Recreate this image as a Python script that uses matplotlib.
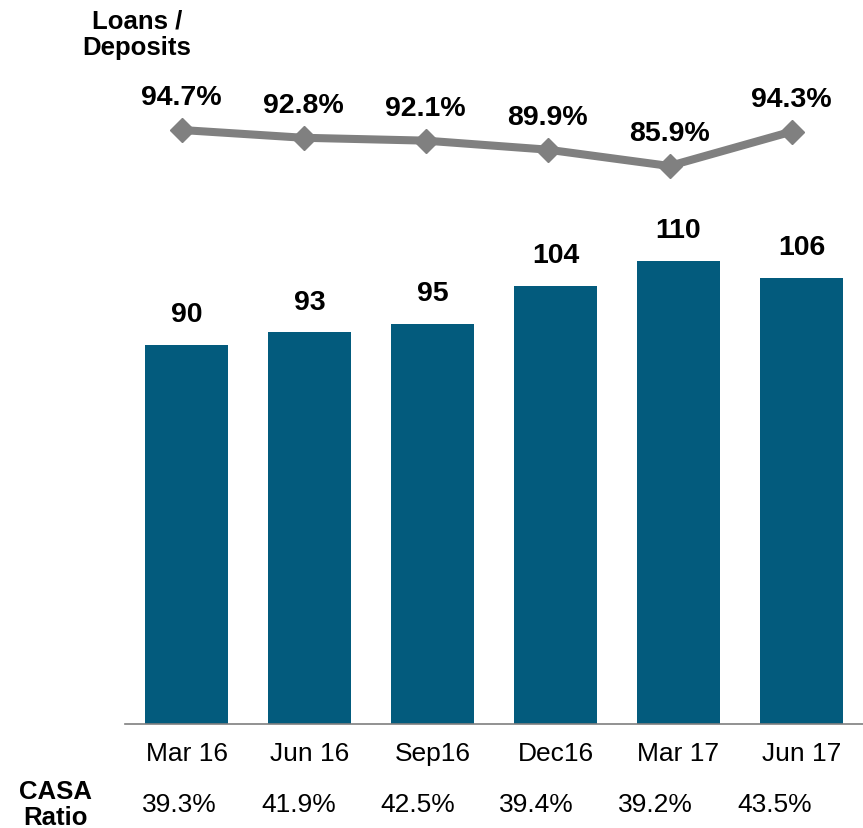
import numpy as np
import matplotlib.pyplot as plt

plt.rcParams['font.family'] = ['Liberation Sans', 'DejaVu Sans']

quarters = ["Mar 16", "Jun 16", "Sep16", "Dec16", "Mar 17", "Jun 17"]
deposits = [90, 93, 95, 104, 110, 106]
loans_deposits = [94.7, 92.8, 92.1, 89.9, 85.9, 94.3]
casa_ratio = [39.3, 41.9, 42.5, 39.4, 39.2, 43.5]

W, H = 863, 829
fig = plt.figure(figsize=(W / 100, H / 100), dpi=100)
ax = fig.add_axes([125 / W, (H - 725) / H, 738 / W, 725 / H])

x = np.arange(len(quarters))
ax.bar(x, deposits, width=0.667, color='#035b7d', zorder=2)
for xi, v in zip(x, deposits):
    ax.text(xi, v + 7.3, str(v), ha='center', va='center',
            fontsize=20.5, fontweight='bold')

ax.set_xlim(-0.5, 5.5)
ax.set_ylim(0, 725 / 4.21)
ax.set_xticks(x)
ax.set_xticklabels(quarters, fontsize=19)
ax.tick_params(axis='x', length=0, pad=12)
ax.set_yticks([])
for s in ['top', 'right', 'left']:
    ax.spines[s].set_visible(False)
ax.spines['bottom'].set_color('#7f7f7f')
ax.spines['bottom'].set_linewidth(1.2)

# loans / deposits line on its own scale
ax2 = ax.twinx()
ax2.set_ylim(94.7 - 594 / 4.09, 94.7 + 131 / 4.09)
ax2.set_xlim(-0.5, 5.5)
line_x = x * (122 / 123) - 5 / 123
ax2.plot(line_x, loans_deposits, color='#808080', lw=5.8, marker='D',
         markersize=12, zorder=3)
for xi, v in zip(line_x, loans_deposits):
    ax2.text(xi, v + 8.1, f"{v:.1f}%", ha='center', va='center',
             fontsize=20.5, fontweight='bold')
ax2.axis('off')

# CASA ratio row
casa_x = (x * 119 - 7) / 123
for xi, v in zip(casa_x, casa_ratio):
    ax.text(xi, -80 / 4.21, f"{v:.1f}%", ha='center', va='center',
            fontsize=19, clip_on=False)

fig.text(55 / W, 1 - 805 / H, "CASA\nRatio", ha='center', va='center',
         fontsize=18.5, fontweight='bold', linespacing=1.12)
fig.text(137 / W, 1 - 35 / H, "Loans /\nDeposits", ha='center', va='center',
         fontsize=18.5, fontweight='bold', linespacing=1.12)

fig.savefig("out.png", dpi=100)
